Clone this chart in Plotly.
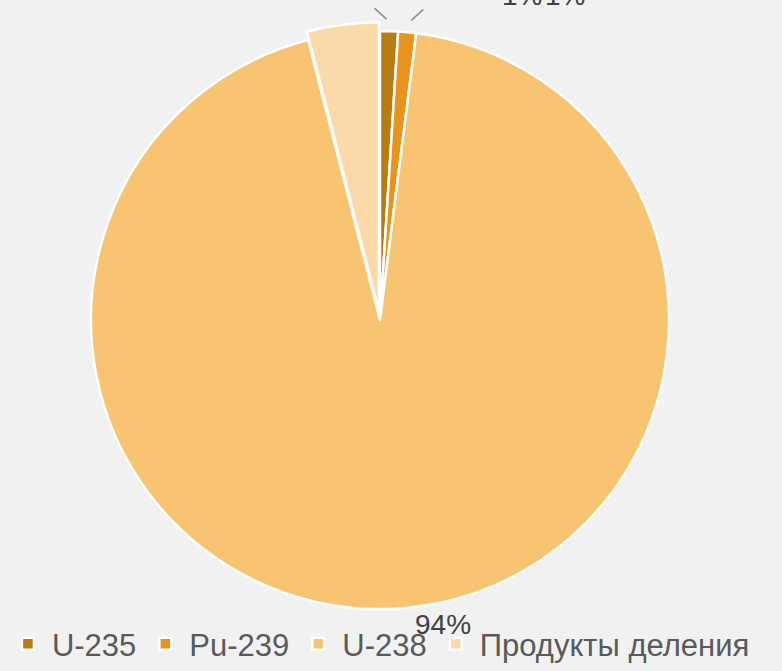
import math
import plotly.graph_objects as go

# Composition of spent nuclear fuel
labels = ["U-235", "Pu-239", "U-238", "Продукты деления"]
shares = [1, 1, 94, 4]
colors = ["#b97c12", "#e8931c", "#f8c471", "#fcd9a8"]
pulls = [0, 0, 0, 0.03]

W, H = 782, 671
cx, cy, R = 380, 320, 289          # pie centre and radius, px from top-left
r_dom = R * (1 + max(pulls))       # domain half-size so the pulled slice fits

fig = go.Figure(
    go.Pie(
        labels=labels,
        values=shares,
        sort=False,
        direction="clockwise",
        rotation=0,
        pull=pulls,
        marker=dict(colors=colors, line=dict(color="white", width=2.5)),
        textinfo="none",
        domain=dict(
            x=[(cx - r_dom) / W, (cx + r_dom) / W],
            y=[(H - cy - r_dom) / H, (H - cy + r_dom) / H],
        ),
        automargin=False,
    )
)

label_font = dict(size=28, color="#404040", family="Liberation Sans")
total = sum(shares)

# labels of the two thin slices sit above the chart, with leader lines
start = 0.0
label_x = [522, 565]
for i in range(2):
    frac = shares[i] / total
    mid = (start + frac / 2) * 2 * math.pi
    start += frac
    ex = cx + math.sin(mid) * (R + 12)
    ey = cy - math.cos(mid) * (R + 12)
    side = -1 if i == 0 else 1
    fig.add_shape(
        type="line", xref="paper", yref="paper",
        x0=(ex + side * 3) / W, y0=(H - ey) / H,
        x1=(ex + side * 15) / W, y1=(H - ey + 11) / H,
        line=dict(color="#8c8c8c", width=1.5),
    )
    fig.add_annotation(
        x=label_x[i] / W, y=(H + 4) / H, xref="paper", yref="paper",
        text=f"{shares[i] / total:.0%}", showarrow=False,
        xanchor="center", yanchor="middle", font=label_font,
    )

# label of the large slice, just below the pie
fig.add_annotation(
    x=443 / W, y=(H - 624) / H, xref="paper", yref="paper",
    text=f"{shares[2] / total:.0%}", showarrow=False,
    xanchor="center", yanchor="middle", font=label_font,
)

fig.update_layout(
    width=W,
    height=H,
    margin=dict(l=0, r=0, t=0, b=0),
    paper_bgcolor="#f1f1f1",
    plot_bgcolor="#f1f1f1",
    font=dict(family="Liberation Sans", color="#595959"),
    showlegend=True,
    legend=dict(
        orientation="h",
        x=0.005,
        xanchor="left",
        y=0,
        yanchor="bottom",
        font=dict(size=31, color="#595959"),
        bgcolor="rgba(0,0,0,0)",
        itemwidth=38,
    ),
)

fig.write_html("out.html")
